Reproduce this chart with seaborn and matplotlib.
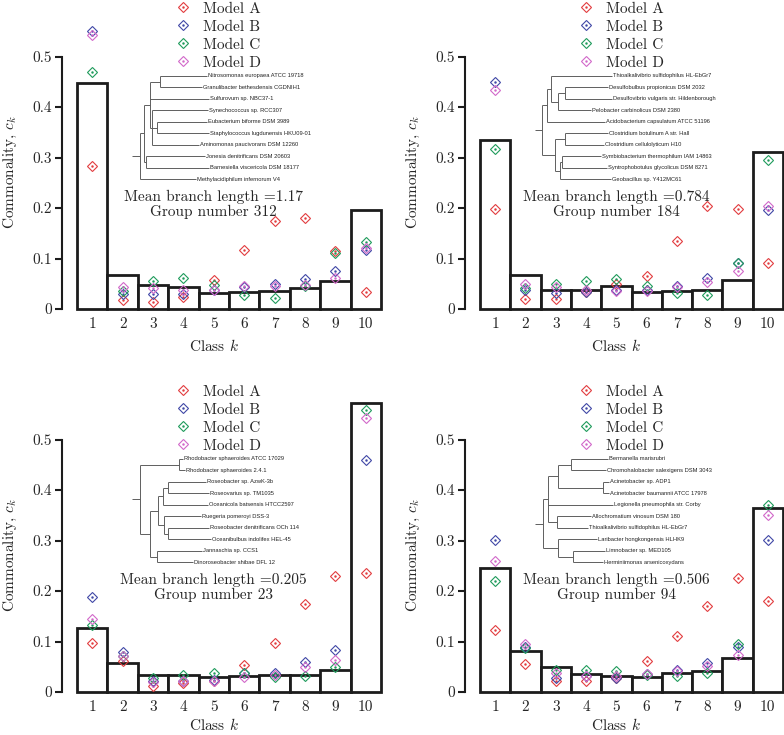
import numpy as np
import pandas as pd
import matplotlib
matplotlib.use("Agg")
import matplotlib.pyplot as plt
from matplotlib.legend_handler import HandlerTuple
import seaborn as sns

# ---------------- data ----------------
classes = [1, 2, 3, 4, 5, 6, 7, 8, 9, 10]
model_names = ["Model A", "Model B", "Model C", "Model D"]

# top-left panel
bars_tl = [0.447, 0.067, 0.048, 0.0435, 0.032, 0.034, 0.036, 0.041, 0.056, 0.197]
a_tl = [0.284, 0.017, 0.0135, 0.023, 0.058, 0.116, 0.175, 0.181, 0.115, 0.034]
b_tl = [0.551, 0.030, 0.030, 0.030, 0.038, 0.044, 0.050, 0.059, 0.076, 0.116]
c_tl = [0.470, 0.035, 0.056, 0.061, 0.048, 0.028, 0.022, 0.046, 0.111, 0.132]
d_tl = [0.542, 0.044, 0.041, 0.038, 0.037, 0.045, 0.046, 0.047, 0.061, 0.121]
mbl_tl, grp_tl = "1.17", "312"
tree_tl = ("((((Nitrosomonas europaea ATCC 19718:140,Granulibacter bethesdensis CGDNIH1:127):30,"
           "Sulfurovum sp. NBC37-1:178,(Synechococcus sp. RCC307:169,(Eubacterium biforme DSM 3989:152,"
           "Staphylococcus lugdunensis HKU09-01:156):15,Aminomonas paucivorans DSM 12260:142):5):17,"
           "(Jonesia denitrificans DSM 20603:178,Barnesiella viscericola DSM 18177:191):4):13,"
           "Methylacidiphilum infernorum V4:167):25;")

# top-right panel
bars_tr = [0.335, 0.067, 0.037, 0.037, 0.046, 0.034, 0.036, 0.038, 0.058, 0.311]
a_tr = [0.199, 0.020, 0.020, 0.033, 0.050, 0.065, 0.134, 0.203, 0.199, 0.091]
b_tr = [0.449, 0.038, 0.032, 0.034, 0.038, 0.037, 0.046, 0.061, 0.091, 0.196]
c_tr = [0.317, 0.042, 0.049, 0.056, 0.059, 0.046, 0.032, 0.028, 0.092, 0.296]
d_tr = [0.434, 0.050, 0.044, 0.038, 0.035, 0.035, 0.044, 0.053, 0.075, 0.203]
mbl_tr, grp_tr = "0.784", "184"
tree_tr = ("(((Thioalkalivibrio sulfidophilus HL-EbGr7:183,((Desulfobulbus propionicus DSM 2032:129,"
           "Desulfovibrio vulgaris str. Hildenborough:141):20,Pelobacter carbinolicus DSM 2380:99):20):15,"
           "Acidobacterium capsulatum ATCC 51196:176):15,((Clostridium botulinum A str. Hall:129,"
           "Clostridium cellulolyticum H10:119):30,((Symbiobacterium thermophilum IAM 14863:116,"
           "Syntrophobotulus glycolicus DSM 8271:133):8,Geobacillus sp. Y412MC61:153):15):40):21;")

# bottom-left panel
bars_bl = [0.127, 0.057, 0.034, 0.034, 0.029, 0.031, 0.034, 0.034, 0.044, 0.573]
a_bl = [0.098, 0.061, 0.011, 0.018, 0.021, 0.053, 0.098, 0.174, 0.229, 0.236]
b_bl = [0.188, 0.079, 0.022, 0.022, 0.024, 0.038, 0.038, 0.059, 0.084, 0.460]
c_bl = [0.133, 0.071, 0.028, 0.034, 0.038, 0.038, 0.029, 0.031, 0.049, 0.559]
d_bl = [0.145, 0.071, 0.020, 0.021, 0.021, 0.029, 0.033, 0.049, 0.063, 0.542]
mbl_bl, grp_bl = "0.205", "23"
tree_bl = ("((Rhodobacter sphaeroides ATCC 17029:11,Rhodobacter sphaeroides 2.4.1:18):117,"
           "((((Roseobacter sp. AzwK-3b:113,Roseovarius sp. TM1035:122):15,"
           "Oceanicola batsensis HTCC2597:135):15,(Ruegeria pomeroyi DSS-3:109,"
           "(Roseobacter denitrificans OCh 114:122,Oceanibulbus indolifex HEL-45:127):12):18):25,"
           "(Jannaschia sp. CCS1:137,Dinoroseobacter shibae DFL 12:108):20):30):25;")

# bottom-right panel
bars_br = [0.246, 0.082, 0.049, 0.036, 0.032, 0.029, 0.038, 0.042, 0.067, 0.365]
a_br = [0.122, 0.055, 0.022, 0.022, 0.028, 0.061, 0.110, 0.170, 0.225, 0.180]
b_br = [0.301, 0.089, 0.028, 0.031, 0.028, 0.036, 0.044, 0.057, 0.089, 0.301]
c_br = [0.219, 0.087, 0.044, 0.044, 0.042, 0.034, 0.031, 0.038, 0.095, 0.371]
d_br = [0.259, 0.095, 0.038, 0.031, 0.031, 0.036, 0.042, 0.051, 0.073, 0.351]
mbl_br, grp_br = "0.506", "94"
tree_br = ("((((Bermanella marisrubri:110,Chromohalobacter salexigens DSM 3043:105):40,"
           "(Acinetobacter sp. ADP1:20,Acinetobacter baumannii ATCC 17978:18):135):30,"
           "Legionella pneumophila str. Corby:197,(Allochromatium vinosum DSM 180:102,"
           "Thioalkalivibrio sulfidophilus HL-EbGr7:92):28):15,"
           "(Laribacter hongkongensis HLHK9:117,(Limnobacter sp. MED105:98,"
           "Herminiimonas arsenicoxydans:90):45):45):25;")

colors = ["#e23c3f", "#4048a6", "#1f9b5c", "#d268c9"]

# ---------------- style ----------------
sns.set_style("ticks")
plt.rcParams["font.family"] = ["cmr10", "DejaVu Serif"]
plt.rcParams["mathtext.fontset"] = "cm"
plt.rcParams["axes.formatter.use_mathtext"] = True
plt.rcParams["axes.unicode_minus"] = False


def parse_newick(s):
    s = s.strip().rstrip(";")
    pos = 0

    def parse():
        nonlocal pos
        children = []
        if s[pos] == "(":
            pos += 1
            while True:
                children.append(parse())
                if s[pos] == ",":
                    pos += 1
                    continue
                if s[pos] == ")":
                    pos += 1
                    break
        start = pos
        while pos < len(s) and s[pos] not in ",():":
            pos += 1
        name = s[start:pos].strip()
        length = 0.0
        if pos < len(s) and s[pos] == ":":
            pos += 1
            start = pos
            while pos < len(s) and s[pos] not in ",()":
                pos += 1
            length = float(s[start:pos])
        return {"name": name, "len": length, "children": children}

    return parse()


def layout(node, x0, leaves):
    node["x0"] = x0
    node["x"] = x0 + node["len"]
    if not node["children"]:
        node["y"] = len(leaves)
        leaves.append(node)
    else:
        for ch in node["children"]:
            layout(ch, node["x"], leaves)
        node["y"] = 0.5 * (node["children"][0]["y"] + node["children"][-1]["y"])


def draw_tree(axt, node, lc="#5e5e5e"):
    axt.plot([node["x0"], node["x"]], [node["y"], node["y"]], color=lc, lw=0.7,
             clip_on=False, solid_capstyle="butt")
    if node["children"]:
        axt.plot([node["x"], node["x"]], [node["children"][0]["y"], node["children"][-1]["y"]],
                 color=lc, lw=0.7, clip_on=False, solid_capstyle="butt")
        for ch in node["children"]:
            draw_tree(axt, ch, lc)
    else:
        axt.text(node["x"] + 3, node["y"], node["name"], fontsize=4.15, va="center", ha="left",
                 family=["Liberation Sans", "DejaVu Sans"], color="#222222", clip_on=False)


W, H = 784, 735
fig = plt.figure(figsize=(W / 100, H / 100), dpi=100)

panels = [
    dict(rect=[77, 309, 304], bars=bars_tl, models=[a_tl, b_tl, c_tl, d_tl], mbl=mbl_tl, grp=grp_tl,
         tree=tree_tl, xlab_y=-0.095),
    dict(rect=[480, 309, 303], bars=bars_tr, models=[a_tr, b_tr, c_tr, d_tr], mbl=mbl_tr, grp=grp_tr,
         tree=tree_tr, xlab_y=-0.095),
    dict(rect=[77, 692, 304], bars=bars_bl, models=[a_bl, b_bl, c_bl, d_bl], mbl=mbl_bl, grp=grp_bl,
         tree=tree_bl, xlab_y=-0.083),
    dict(rect=[480, 692, 303], bars=bars_br, models=[a_br, b_br, c_br, d_br], mbl=mbl_br, grp=grp_br,
         tree=tree_br, xlab_y=-0.083),
]

YTOP = 0.6
PX_PER_UNIT = 505  # pixels per 1.0 on y

for p in panels:
    left_px, zero_px, width_px = p["rect"]
    h_px = YTOP * PX_PER_UNIT
    ax = fig.add_axes([left_px / W, (H - zero_px) / H, width_px / W, h_px / H])

    df = pd.DataFrame({"class": classes, "value": p["bars"]})
    sns.barplot(data=df, x="class", y="value", native_scale=True, width=1, color="white",
                edgecolor="#1c1c1c", linewidth=2.0, errorbar=None, ax=ax, zorder=1)
    for patch in ax.patches:
        patch.set_clip_on(False)
        patch.set_facecolor("white")

    handles = []
    for vals, col, name in zip(p["models"], colors, model_names):
        h1, = ax.plot(classes, vals, ls="none", marker="D", ms=5.0, mfc="none", mec=col, mew=0.8,
                      zorder=3, clip_on=False)
        h2, = ax.plot(classes, vals, ls="none", marker="o", ms=1.4, mfc=col, mec=col, mew=0.3,
                      zorder=3, clip_on=False)
        handles.append((h1, h2))

    ax.legend(handles, model_names, handler_map={tuple: HandlerTuple(ndivide=1, pad=0)},
              loc="upper left", bbox_to_anchor=(3.74, 0.608), bbox_transform=ax.transData,
              frameon=False, borderpad=0, borderaxespad=0, handlelength=1.0, handletextpad=0.8,
              labelspacing=0.28, fontsize=11)

    ax.text(5, 0.222, "Mean branch length =" + p["mbl"], ha="center", va="center", fontsize=11)
    ax.text(5, 0.193, "Group number " + p["grp"], ha="center", va="center", fontsize=11)

    ax.set_xlim(0.5, 10.5)
    ax.set_ylim(0, YTOP)
    ax.set_xticks(classes)
    ax.set_xticklabels([str(c) for c in classes])
    ax.set_yticks([0, 0.1, 0.2, 0.3, 0.4, 0.5])
    ax.set_yticklabels(["0", "0.1", "0.2", "0.3", "0.4", "0.5"])
    sns.despine(ax=ax, bottom=True, offset={"left": 10.5})
    ax.spines["left"].set_bounds(0, 0.5)
    ax.spines["left"].set_linewidth(1.5)
    ax.spines["left"].set_color("#1c1c1c")
    ax.tick_params(axis="y", length=5, width=1.5, pad=2.5, labelsize=11, color="#1c1c1c")
    ax.tick_params(axis="x", length=0, pad=6, labelsize=11)
    ax.set_xlabel("Class $k$", fontsize=11)
    ax.set_ylabel("Commonality, $c_k$", fontsize=11)
    ax.xaxis.set_label_coords(0.449, p["xlab_y"])
    ax.yaxis.set_label_coords(-0.19, 0.45)

    # tree inset
    root = parse_newick(p["tree"])
    leaves = []
    layout(root, 0.0, leaves)
    maxx = max(l["x"] for l in leaves)
    n = len(leaves)
    y_top, y_bot = 0.4614, 0.2568
    axt = ax.inset_axes([2.3, y_bot, maxx / 91.2, y_top - y_bot], transform=ax.transData)
    axt.set_xlim(0, maxx)
    axt.set_ylim(n - 1, 0)
    axt.axis("off")
    axt.patch.set_alpha(0)
    draw_tree(axt, root)

fig.savefig("out.png", dpi=100)
